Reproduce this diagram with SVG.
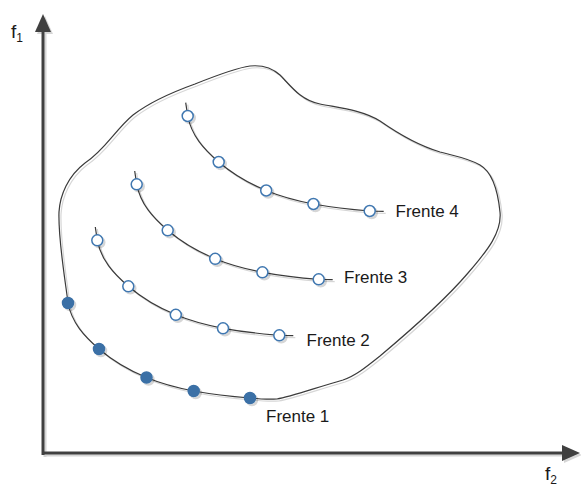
<svg xmlns="http://www.w3.org/2000/svg" xmlns:xlink="http://www.w3.org/1999/xlink" width="581" height="490" viewBox="0 0 581 490">
<style>
.ax{stroke:#404040;stroke-width:3;fill:none}
.ln{stroke:#3a3a3a;stroke-width:1.2;fill:none}
.op{fill:#ffffff;stroke:#3f77b0;stroke-width:1.5}
.fl{fill:#3b70a6;stroke:#3b70a6;stroke-width:1.5}
.lb{font-family:"Liberation Sans",Arial,sans-serif;font-size:17px;fill:#1a1a1a}
.ft{font-family:"Liberation Sans",Arial,sans-serif;font-size:19px;fill:#1a1a1a}
.sb{font-size:12px}
</style>
<defs>
<filter id="sh" x="-10%" y="-10%" width="130%" height="130%">
<feDropShadow dx="2" dy="2" stdDeviation="0.6" flood-color="#000" flood-opacity="0.16"/>
</filter>
<marker id="ah" viewBox="0 0 18 16" refX="2" refY="8" markerWidth="18" markerHeight="16" markerUnits="userSpaceOnUse" orient="auto">
<path d="M0,0 L18,8 L0,16 Z" fill="#404040"/>
</marker>
<path id="front" d="M -2,-13.3 L 0,0 C 4,20 16,33 31,46 C 45,58 60,67 78.5,74.5 C 94,81 110,85 125.7,88 C 145,91.5 163,93.5 182,95 L 196,95.4"/>
<g id="odots">
<circle class="op" cx="0" cy="0" r="5.5"/>
<circle class="op" cx="31" cy="46" r="5.5"/>
<circle class="op" cx="78.5" cy="74.5" r="5.5"/>
<circle class="op" cx="125.7" cy="88" r="5.5"/>
<circle class="op" cx="182" cy="95" r="5.5"/>
</g>
</defs>

<g id="axes" filter="url(#sh)">
<line class="ax" x1="43" y1="455" x2="43" y2="30" marker-end="url(#ah)"/>
<line class="ax" x1="43" y1="453" x2="564" y2="453" marker-end="url(#ah)"/>
</g>
<text class="ft" x="11" y="38">f<tspan class="sb" dy="4">1</tspan></text>
<text class="ft" x="545" y="480">f<tspan class="sb" dy="4">2</tspan></text>

<g id="connectors" filter="url(#sh)">
<path id="blob" class="ln" d="M 68,303 C 72,323 84,336 99,349 C 113,361 128,370 146.5,377.5 C 162,384 178,388 193.7,391 C 213,394.5 231,396.5 250,398 C 260,399 270,399.5 277,399 C 290,397 315,388 343,380 C 355,376 365,368 380,356 C 405,335 445,300 468,273 C 488,250 502,232 500,212 C 498,192 492,172 480,165 C 468,158 455,156 440,152 C 420,146 400,135 380,121 C 362,110 340,108 320,104 C 300,100 290,85 280,75 C 270,66 260,65 250,66 C 235,68 215,76 195,84 C 170,93 150,102 133,115 C 115,130 105,150 85,163 C 68,176 60,195 59,212 C 58,240 66,285 68,303 Z"/>
<use href="#front" class="ln" transform="translate(187.7,116)"/>
<use href="#front" class="ln" transform="translate(136.7,184.3)"/>
<use href="#front" class="ln" transform="translate(97.3,240.3)"/>
</g>

<g id="frente1" filter="url(#sh)">
<circle class="fl" cx="68" cy="303" r="5.5"/>
<circle class="fl" cx="99" cy="349" r="5.5"/>
<circle class="fl" cx="146.5" cy="377.5" r="5.5"/>
<circle class="fl" cx="193.7" cy="391" r="5.5"/>
<circle class="fl" cx="250" cy="398" r="5.5"/>
</g>
<text class="lb" x="266" y="421.5">Frente 1</text>

<g id="frente2" filter="url(#sh)">
<use href="#odots" transform="translate(97.3,240.3)"/>
</g>
<text class="lb" x="306.5" y="346">Frente 2</text>

<g id="frente3" filter="url(#sh)">
<use href="#odots" transform="translate(136.7,184.3)"/>
</g>
<text class="lb" x="344" y="282.5">Frente 3</text>

<g id="frente4" filter="url(#sh)">
<use href="#odots" transform="translate(187.7,116)"/>
</g>
<text class="lb" x="395.5" y="217">Frente 4</text>
</svg>
